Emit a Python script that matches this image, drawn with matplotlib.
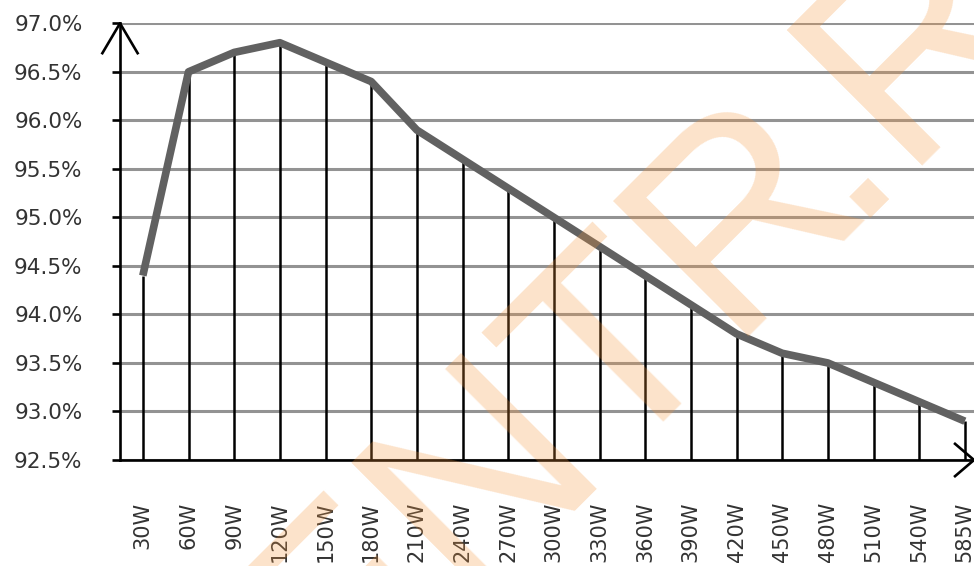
import matplotlib
matplotlib.use('Agg')
import matplotlib.pyplot as plt
from matplotlib.ticker import FuncFormatter

# ---- data ----
categories = ['30W', '60W', '90W', '120W', '150W', '180W', '210W', '240W', '270W',
              '300W', '330W', '360W', '390W', '420W', '450W', '480W', '510W', '540W', '585W']
efficiency = [94.4, 96.5, 96.7, 96.8, 96.6, 96.4, 95.9, 95.6, 95.3,
              95.0, 94.7, 94.4, 94.1, 93.8, 93.6, 93.5, 93.3, 93.1, 92.9]
y_ticks = [92.5, 93.0, 93.5, 94.0, 94.5, 95.0, 95.5, 96.0, 96.5, 97.0]
watermark_parts = ['ENTR', '.RU']

W, H = 974, 566
fig = plt.figure(figsize=(W / 100, H / 100), dpi=100)
ax = fig.add_axes([120 / W, 1 - 460 / H, 867.7 / W, (460 - 23.3) / H])

x = list(range(len(categories)))
ax.set_xlim(-0.5, len(categories) - 0.5)
ax.set_ylim(y_ticks[0], y_ticks[-1])
ax.set_yticks(y_ticks)
ax.yaxis.set_major_formatter(FuncFormatter(lambda v, _: f'{v:.1f}%'))
ax.set_xticks(x)
ax.set_xticklabels(categories, rotation=90)

ax.grid(axis='y', color='#939393', lw=2.2, zorder=1)
ax.grid(axis='x', visible=False)
ax.set_axisbelow(True)

ax.vlines(x, y_ticks[0], efficiency, colors='black', lw=1.8, zorder=2)
ax.plot(x, efficiency, color='#616161', lw=5.5, solid_joinstyle='round',
        solid_capstyle='butt', zorder=3)

for s in ['top', 'right']:
    ax.spines[s].set_visible(False)
for s in ['left', 'bottom']:
    ax.spines[s].set_color('black')
    ax.spines[s].set_linewidth(1.9)
    ax.spines[s].set_zorder(4)

ax.tick_params(axis='y', direction='out', length=6, width=1.9, color='black',
               labelsize=15.5, labelcolor='#333333', pad=21)
ax.tick_params(axis='x', length=0, labelsize=15, labelcolor='#333333', pad=30)

# axis arrows
kw = dict(transform=ax.transAxes, clip_on=False, color='black', lw=1.9,
          solid_capstyle='butt', zorder=5)
ax.plot([-0.0211, 0, 0.0211], [0.929, 1.0, 0.929], **kw)
xt = (974 - 120) / 867.7
ax.plot([xt - 0.023, xt, xt - 0.023], [0.039, 0.0, -0.039], **kw)

# watermark
wm_kw = dict(fontsize=200, family='Liberation Sans', color='#F5963C', alpha=0.27,
             rotation=45, rotation_mode='anchor', ha='left', va='baseline', zorder=10)
fig.text(334 / W, (H - 729) / H, watermark_parts[0], **wm_kw)
fig.text(846 / W, (H - 218) / H, watermark_parts[1], **wm_kw)

fig.savefig('out.png', dpi=100)
